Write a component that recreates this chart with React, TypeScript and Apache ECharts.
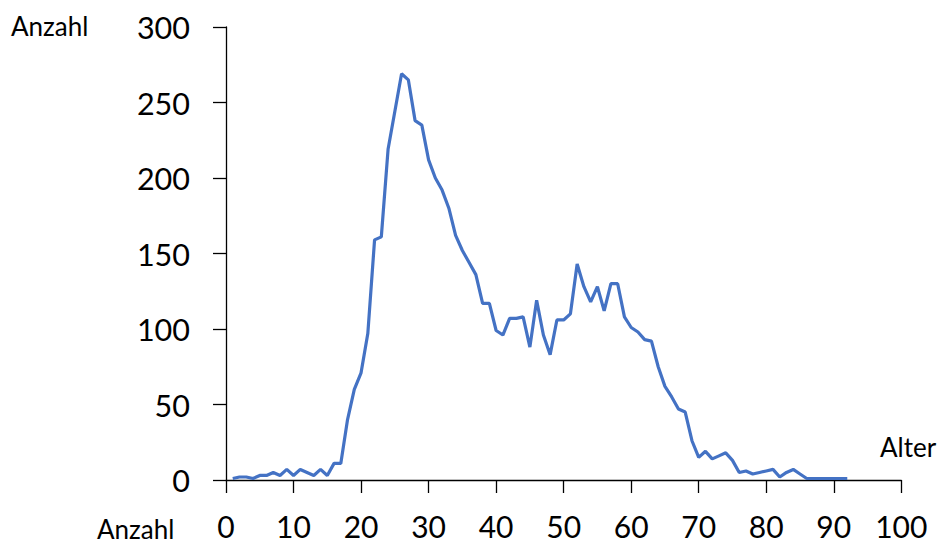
import React, { useEffect, useRef } from "react";
import * as echarts from "echarts";

const ages: number[] = [
  1, 2, 3, 4, 5, 6, 7, 8, 9, 10, 11, 12, 13, 14, 15, 16, 17, 18, 19, 20,
  21, 22, 23, 24, 25, 26, 27, 28, 29, 30, 31, 32, 33, 34, 35, 36, 37, 38, 39, 40,
  41, 42, 43, 44, 45, 46, 47, 48, 49, 50, 51, 52, 53, 54, 55, 56, 57, 58, 59, 60,
  61, 62, 63, 64, 65, 66, 67, 68, 69, 70, 71, 72, 73, 74, 75, 76, 77, 78, 79, 80,
  81, 82, 83, 84, 85, 86, 87, 88, 89, 90, 91, 92,
];
const counts: number[] = [
  1, 2, 2, 1, 3, 3, 5, 3, 7, 3, 7, 5, 3, 7, 3, 11, 11, 40, 60, 71,
  97, 159, 161, 219, 244, 269, 265, 238, 235, 212, 200, 192, 180, 162, 152, 144, 136, 117, 117, 99,
  96, 107, 107, 108, 88, 119, 96, 83, 106, 106, 110, 143, 128, 118, 128, 112, 130, 130, 108, 101,
  98, 93, 92, 75, 62, 55, 47, 45, 26, 15, 19, 14, 16, 18, 13, 5, 6, 4, 5, 6,
  7, 2, 5, 7, 4, 1, 1, 1, 1, 1, 1, 1,
];
const yAxisTitle = "Anzahl";
const xAxisTitle = "Alter";
const strayLabel = "Anzahl";

const FONT = "Lato";

export default function App() {
  const ref = useRef<HTMLDivElement>(null);
  useEffect(() => {
    if (!ref.current) return;
    const chart = echarts.init(ref.current, null, { renderer: "svg" });
    const axisLine = { show: true, lineStyle: { color: "#000", width: 1.3 } };
    chart.setOption({
      animation: false,
      backgroundColor: "#fff",
      textStyle: { fontFamily: FONT },
      grid: { left: 226, right: 38.7, top: 27, bottom: 64, containLabel: false },
      xAxis: {
        type: "value",
        min: 0,
        max: 100,
        interval: 10,
        axisLine,
        axisTick: { show: true, length: 13, inside: false, lineStyle: { color: "#000", width: 1.3 } },
        splitLine: { show: false },
        axisLabel: { fontFamily: FONT, fontSize: 30, lineHeight: 24, color: "#000", margin: 34 },
      },
      yAxis: {
        type: "value",
        min: 0,
        max: 300,
        interval: 50,
        axisLine,
        axisTick: { show: true, length: 13, inside: false, lineStyle: { color: "#000", width: 1.3 } },
        splitLine: { show: false },
        axisLabel: { fontFamily: FONT, fontSize: 30.5, color: "#000", margin: 36 },
      },
      series: [
        {
          type: "line",
          data: ages.map((a, i) => [a, counts[i]]),
          showSymbol: false,
          symbol: "none",
          lineStyle: { color: "#4472C4", width: 3.2 },
          itemStyle: { color: "#4472C4" },
        },
      ],
      graphic: [
        {
          type: "text",
          left: 11,
          top: 13,
          style: { text: yAxisTitle, fontFamily: FONT, fontSize: 26, fill: "#000" },
        },
        {
          type: "text",
          left: 880,
          top: 434,
          style: { text: xAxisTitle, fontFamily: FONT, fontSize: 26, fill: "#000" },
        },
        {
          type: "text",
          left: 97,
          top: 516,
          style: { text: strayLabel, fontFamily: FONT, fontSize: 26, lineHeight: 23, fill: "#000" },
        },
      ],
    });
    return () => chart.dispose();
  }, []);
  return (
    <div
      ref={ref}
      style={{ position: "fixed", left: 0, top: 0, width: 940, height: 544 }}
    />
  );
}
